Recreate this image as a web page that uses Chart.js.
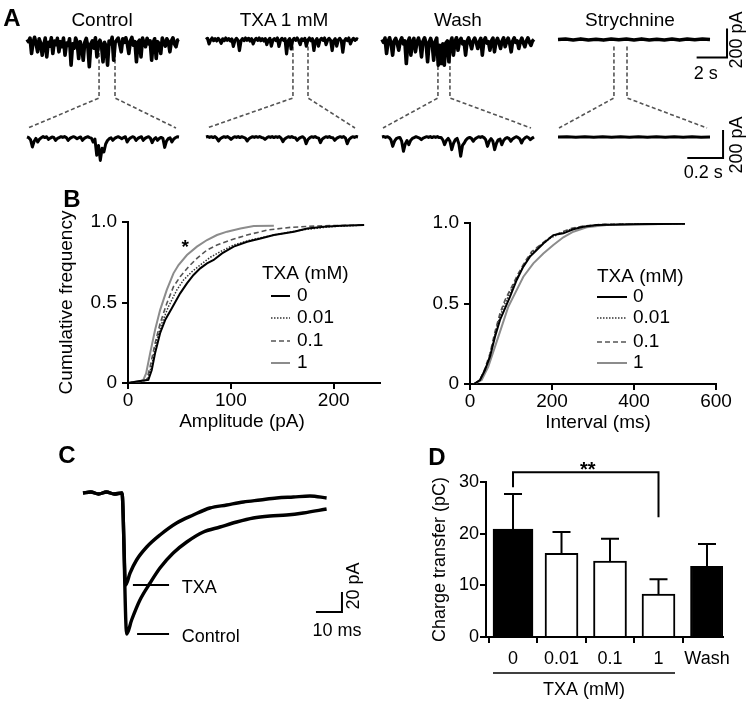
<!DOCTYPE html>
<html>
<head>
<meta charset="utf-8">
<title>TXA and glycinergic currents</title>
<script src="https://cdn.jsdelivr.net/npm/chart.js@4.4.1/dist/chart.umd.min.js"></script>
<style>
  html, body { margin: 0; padding: 0; background: #fff; }
  body { position: relative; width: 755px; height: 705px; overflow: hidden;
         font-family: "Liberation Sans", Arial, Helvetica, sans-serif; color: #000; }
  canvas { position: absolute; }
  .txt { position: absolute; transform: translate(-50%, -50%); line-height: 1; white-space: nowrap; }
  .letter { font-weight: bold; font-size: 24px; }
  .title { font-size: 19px; }
</style>
</head>
<body>
<script>
const FONT = '"Liberation Sans", Arial, Helvetica, sans-serif';
Chart.defaults.font.family = FONT;
Chart.defaults.color = '#000';

// ---------- Panel A sweeps (pA). Top: one value per 0.1 s, bottom: one per 0.01 s ----------
const ctrlTop = [0,-15,10,-97,-20,15,-30,-85,5,-25,
  -108,-40,10,-120,-20,-45,12,-97,-10,-35,
  8,-85,-15,-50,10,-108,-25,-40,5,-177,
  -30,-60,10,-20,-131,-15,-50,-143,-20,8,
  -45,-188,-30,-10,-60,12,-120,-25,-5,-40,
  -154,-20,-45,-177,-10,-30,15,-143,-20,-5,
  10,-35,-85,5,-20,12,-30,-97,-10,15,
  -40,-15,-154,-20,-5,-120,10,-25,-50,8,
  -30,-10,-143,-20,5,-131,-15,-30,-97,10,
  -20,-45,5,-15,-85,-10,12,-30,-50,-5,0];
const txaTop = [0,8,-30,-5,10,-8,5,-10,8,-5,
  -26,5,-8,10,-5,6,-10,4,-48,-8,
  8,-5,-76,-10,6,-8,10,-5,8,-10,
  5,-30,-5,8,-6,10,-8,5,-10,6,
  -35,-5,8,-46,-5,6,-8,10,-48,-5,
  8,-6,5,-99,-10,6,-65,-5,8,-6,
  10,-8,-35,5,-6,8,-46,-5,10,-8,
  5,-76,-10,6,-46,-5,8,-6,10,-35,
  -5,8,-6,-76,-8,5,-46,-5,8,-6,
  -88,-10,6,-8,10,-30,-5,8,-6,5,0];
const washTop = [0,-20,10,-97,-15,12,-30,-108,-10,8,
  -25,-74,-10,12,-30,-10,-166,-20,10,-108,
  -15,8,-85,-20,10,-30,-120,-10,12,-25,
  -154,-20,8,-30,-143,-15,10,-177,-40,-166,
  -30,-177,-25,-10,-154,-20,10,-108,-15,12,
  -74,-10,8,-30,-15,-108,-10,12,-25,-64,
  -10,10,-20,-62,-15,8,-108,-10,12,-25,
  -15,-74,-10,10,-85,-15,8,-25,-62,-10,
  12,-50,-15,10,-25,-85,-10,12,-20,-10,
  -62,-15,10,-25,-50,-10,12,-20,-40,-10,0];
const strychTop = [0,3,-3,4,-3,2,-4,3,-2,3,-3,4,-3,2,-3,3,-4,3,-2,3,0]; // one per 0.5 s

const ctrlBot = [0,-5,-20,-71,-30,-10,-36,-15,-5,3,
  -4,2,-17,-8,0,-3,-24,-10,-4,2,
  -3,3,-4,-24,-10,-3,2,-3,-12,-5,
  0,-24,-10,-3,2,-4,-8,-36,-15,-131,
  -60,-167,-80,-107,-50,-25,-12,-6,-24,-10,
  -3,2,-4,-12,-4,2,-36,-15,-5,2,
  -3,-24,-10,-3,2,-24,-10,-3,2,-8,
  -40,-15,-5,-24,-10,-3,-10,-74,-30,-12,
  -5,-36,-15,-5,2,0];
const txaBot = [0,3,-3,2,-4,3,-8,-29,-12,-4,
  2,-3,3,-5,-17,-6,2,-3,3,-4,
  2,-3,-8,-29,-12,-4,2,-3,3,-2,
  3,-3,-6,-17,-6,2,-3,3,-4,2,
  -3,3,-8,-33,-14,-5,2,-3,3,-4,
  -6,-24,-10,-3,2,-8,-48,-18,-6,2,
  -3,3,-4,-8,-40,-15,-5,2,-3,3,
  -4,-6,-24,-10,-3,2,-3,3,-8,-48,
  -18,-6,2,-3,3,0];
const washBot = [0,3,-3,2,-4,-20,-67,-30,-12,-5,
  -3,-30,-102,-50,-25,-55,-25,-10,-4,2,
  -3,-8,-19,-8,-3,2,-3,3,-4,2,
  -3,3,-4,-3,-20,-55,-25,-10,-30,-90,
  -45,-20,-10,-50,-138,-60,-43,-20,-8,-3,
  -10,-31,-14,-5,2,-3,3,-4,-20,-67,
  -30,-12,-30,-90,-45,-20,-15,-55,-25,-10,
  -4,-10,-31,-14,-5,2,-3,-12,-43,-18,
  -6,2,-5,-19,-8,0];
const strychBot = [0,1,-1,2,-2,1,-1,1,-2,1,-1,2,-1,1,-2,1,-1,0]; // one per 0.05 s

// ---------- Panel B cumulative distributions ----------
const txaLabels = ['0', '0.01', '0.1', '1'];
const ampX0 = [0, 11.7, 19.8, 23.1, 26.3, 31.2, 36.1, 42.6, 50.7, 57.3, 63.7, 70.2, 76.8, 83.3, 91.4, 102.7, 115.8, 128.8, 141.8, 161.3, 174.3, 190.5, 206.8, 229.6];
const ampY0 = [0, 0.012, 0.019, 0.081, 0.184, 0.309, 0.391, 0.464, 0.557, 0.619, 0.671, 0.712, 0.743, 0.764, 0.805, 0.847, 0.877, 0.898, 0.919, 0.940, 0.960, 0.971, 0.977, 0.981];
const ampX001 = [0, 12, 18.9, 23.1, 28.0, 32.8, 39.3, 47.5, 54.0, 62.1, 70.2, 80.0, 89.8, 102.7, 119.0, 141.8, 167.8, 197.1, 229.6];
const ampY001 = [0, 0.01, 0.019, 0.112, 0.267, 0.370, 0.474, 0.578, 0.640, 0.691, 0.733, 0.781, 0.816, 0.857, 0.888, 0.919, 0.950, 0.971, 0.981];
const ampX01 = [0, 12, 18.2, 21.5, 26.3, 31.2, 37.7, 44.2, 50.7, 58.8, 67.0, 76.8, 86.5, 99.5, 115.8, 135.3, 158.0, 190.5, 229.6];
const ampY01 = [0, 0.01, 0.019, 0.101, 0.246, 0.370, 0.494, 0.598, 0.660, 0.722, 0.774, 0.826, 0.857, 0.888, 0.919, 0.950, 0.967, 0.977, 0.981];
const ampX1 = [0, 12, 14.9, 17.6, 21.5, 26.3, 31.2, 37.7, 44.2, 49.1, 57.3, 67.0, 76.8, 86.5, 96.3, 109.3, 122.3, 141.8];
const ampY1 = [0, 0.012, 0.019, 0.060, 0.184, 0.329, 0.453, 0.578, 0.681, 0.733, 0.795, 0.847, 0.888, 0.919, 0.940, 0.960, 0.975, 0.977];

const intX0 = [10, 24.4, 36.6, 48.8, 61.0, 73.2, 85.4, 97.6, 113.9, 130.1, 146.3, 162.7, 178.9, 203.3, 227.6, 252.0, 276.4, 309.0, 400, 524.4];
const intY0 = [0, 0.025, 0.087, 0.170, 0.294, 0.398, 0.470, 0.542, 0.646, 0.729, 0.791, 0.832, 0.873, 0.925, 0.936, 0.961, 0.977, 0.988, 0.993, 0.996];
const intX001 = [10, 24.4, 36.6, 48.8, 61.0, 73.2, 85.4, 101.7, 117.9, 134.1, 150.4, 170.7, 195.1, 219.5, 248.0, 276.4, 325.2, 420, 524.4];
const intY001 = [0, 0.025, 0.092, 0.180, 0.310, 0.420, 0.500, 0.590, 0.675, 0.750, 0.812, 0.858, 0.905, 0.935, 0.963, 0.978, 0.990, 0.994, 0.996];
const intX01 = [10, 24.4, 36.6, 48.8, 61.0, 73.2, 85.4, 101.7, 117.9, 134.1, 150.4, 170.7, 195.1, 219.5, 248.0, 276.4, 325.2, 420, 524.4];
const intY01 = [0, 0.025, 0.097, 0.190, 0.325, 0.439, 0.522, 0.604, 0.687, 0.760, 0.822, 0.863, 0.911, 0.940, 0.967, 0.981, 0.992, 0.994, 0.996];
const intX1 = [10, 28.5, 44.7, 61.0, 77.3, 93.4, 109.8, 130.1, 154.5, 178.9, 203.3, 227.6, 252.0, 284.6, 333.4, 420, 524.4];
const intY1 = [0, 0.025, 0.108, 0.232, 0.356, 0.480, 0.563, 0.666, 0.749, 0.811, 0.863, 0.911, 0.946, 0.973, 0.988, 0.993, 0.996];

const cumYTicks = [0, 0.5, 1];
const ampTicks = [0, 100, 200];
const intTicks = [0, 200, 400, 600];

// ---------- Panel C averaged events (ms, pA) ----------
const cTxaT = [-15, -12, -9, -6, -3, 0, 1.4, 3.1, 5.6, 9.5, 14.6, 21.0, 27.4, 33.8, 40.3, 46.7, 53.1, 59.5, 65.9, 72.3, 78.7];
const cTxaI = [0, 1, -1, 1, -1, 0, -92, -80, -67, -54, -42, -30, -22, -15, -12, -9, -7, -5, -4, -3, -5];
const cCtrlT = [-15, -12, -9, -6, -3, 0, 1.8, 3.7, 6.9, 10.8, 14.6, 19.7, 24.9, 31.3, 37.7, 44.1, 50.5, 56.9, 63.3, 69.7, 78.7];
const cCtrlI = [0, 1, -1, 1, -1, 0, -141, -127, -107, -90, -75, -60, -49, -39, -34, -29, -25, -23, -22, -20, -16];

// ---------- Panel D charge transfer (pC) ----------
const dCats = ['0', '0.01', '0.1', '1', 'Wash'];
const dMean = [20.9, 16.2, 14.7, 8.3, 13.7];
const dSem = [6.8, 4.1, 4.3, 2.9, 4.3];
const dFill = ['#000', '#fff', '#fff', '#fff', '#000'];
const dYTicks = [0, 10, 20, 30];

// ---------- helpers ----------
function makeCanvas(left, top, w, h) {
    const c = document.createElement('canvas');
    c.width = w; c.height = h;
    c.style.left = left + 'px'; c.style.top = top + 'px';
    c.style.width = w + 'px'; c.style.height = h + 'px';
    document.body.appendChild(c);
    return c;
}

function htmlText(text, x, y, cls) {
    const d = document.createElement('div');
    d.className = 'txt ' + cls;
    d.textContent = text;
    d.style.left = x + 'px'; d.style.top = y + 'px';
    document.body.appendChild(d);
}

function canvasText(ctx, text, x, y, size, opts = {}) {
    ctx.save();
    ctx.font = (opts.bold ? 'bold ' : '') + size + 'px ' + FONT;
    ctx.fillStyle = '#000';
    ctx.textAlign = opts.align || 'center';
    ctx.textBaseline = opts.baseline || 'middle';
    ctx.translate(x, y);
    if (opts.rotate) ctx.rotate(-Math.PI / 2);
    ctx.fillText(text, 0, 0);
    ctx.restore();
}

function strokeLines(ctx, segs, width, color, dash) {
    ctx.save();
    ctx.strokeStyle = color || '#000';
    ctx.lineWidth = width;
    ctx.setLineDash(dash || []);
    ctx.beginPath();
    segs.forEach(s => { ctx.moveTo(s[0], s[1]); for (let i = 2; i < s.length; i += 2) ctx.lineTo(s[i], s[i + 1]); });
    ctx.stroke();
    ctx.restore();
}

const baseOptions = {
    responsive: false,
    animation: false,
    events: [],
    plugins: { legend: { display: false }, tooltip: { enabled: false } }
};

// ---------- Panel A ----------
const TOP_PX_S = 15.2, BOT_PX_S = 152 / 0.85;
const TOP_PA_PX = 6.9, BOT_PA_PX = 7.14;
const A_H = 185, TOP_BASE = 39.5, BOT_BASE = 137, BOT_LEN = 0.85;

const columns = [
    { title: 'Control', cx: 102, start: 27, top: ctrlTop, topDt: 0.1, bot: ctrlBot, botDt: 0.01, win: [4.74, 5.79], lw: 3.6 },
    { title: 'TXA 1 mM', cx: 284, start: 206, top: txaTop, topDt: 0.1, bot: txaBot, botDt: 0.01, win: [5.72, 6.71], lw: 3.2 },
    { title: 'Wash', cx: 458, start: 382, top: washTop, topDt: 0.1, bot: washBot, botDt: 0.01, win: [3.68, 4.47], lw: 3.6 },
    { title: 'Strychnine', cx: 630, start: 558, top: strychTop, topDt: 0.5, bot: strychBot, botDt: 0.05, win: [3.68, 4.54], lw: 3.6, scaleBars: true }
];

function sweep(vals, dt) {
    return vals.map((v, i) => ({ x: +(i * dt).toFixed(3), y: v }));
}

function zoomLines(col) {
    return {
        id: 'zoomLines',
        beforeDatasetsDraw(chart) {
            const s = chart.scales;
            const yT = s.yTop.getPixelForValue(0) + 7;
            const yM = s.yBot.getPixelForValue(0) - 39;
            const yB = s.yBot.getPixelForValue(0) - 9;
            const x0 = s.xTop.getPixelForValue(col.win[0]);
            const x1 = s.xTop.getPixelForValue(col.win[1]);
            const b0 = s.xBot.getPixelForValue(0) + 1;
            const b1 = s.xBot.getPixelForValue(BOT_LEN) - 3;
            strokeLines(chart.ctx, [[x0, yT, x0, yM, b0, yB], [x1, yT, x1, yM, b1, yB]], 1.6, '#555', [4, 2.5]);
        }
    };
}

// 2 s / 200 pA and 0.2 s / 200 pA calibration bars
const scaleBarsA = {
    id: 'scaleBarsA',
    afterDatasetsDraw(chart) {
        const { ctx, scales: { xTop, yTop, xBot, yBot } } = chart;
        const tx0 = xTop.getPixelForValue(9.12), tx1 = xTop.getPixelForValue(11.12);
        const ty0 = yTop.getPixelForValue(-124), ty1 = yTop.getPixelForValue(76);
        const bx0 = xBot.getPixelForValue(0.723), bx1 = xBot.getPixelForValue(0.923);
        const by0 = yBot.getPixelForValue(-150), by1 = yBot.getPixelForValue(50);
        strokeLines(ctx, [[tx0, ty0, tx1, ty0, tx1, ty1], [bx0, by0, bx1, by0, bx1, by1]], 2);
        canvasText(ctx, '2 s', (tx0 + tx1) / 2 - 6, ty0 + 17, 18);
        canvasText(ctx, '200 pA', tx1 + 10, (ty0 + ty1) / 2 - 3, 18, { rotate: true });
        canvasText(ctx, '0.2 s', (bx0 + bx1) / 2 - 2, by0 + 15, 18);
        canvasText(ctx, '200 pA', bx1 + 14, (by0 + by1) / 2 + 1, 18, { rotate: true });
    }
};

columns.forEach(col => {
    const left = col.start - 3;
    const w = col.scaleBars ? 755 - left : 158;
    const cv = makeCanvas(left, 0, w, A_H);
    const line = { borderColor: '#000', pointRadius: 0, tension: 0, borderJoinStyle: 'round' };
    new Chart(cv, {
        type: 'line',
        data: {
            datasets: [
                Object.assign({ data: sweep(col.top, col.topDt), xAxisID: 'xTop', yAxisID: 'yTop', borderWidth: col.lw }, line),
                Object.assign({ data: sweep(col.bot, col.botDt), xAxisID: 'xBot', yAxisID: 'yBot', borderWidth: 3 }, line)
            ]
        },
        options: Object.assign({}, baseOptions, {
            layout: { padding: 0 },
            scales: {
                xTop: { type: 'linear', display: false, min: -3 / TOP_PX_S, max: (w - 3) / TOP_PX_S },
                xBot: { type: 'linear', display: false, min: -3 / BOT_PX_S, max: (w - 3) / BOT_PX_S },
                yTop: { type: 'linear', display: false, max: TOP_BASE * TOP_PA_PX, min: (TOP_BASE - A_H) * TOP_PA_PX },
                yBot: { type: 'linear', display: false, max: BOT_BASE * BOT_PA_PX, min: (BOT_BASE - A_H) * BOT_PA_PX }
            }
        }),
        plugins: [zoomLines(col)].concat(col.scaleBars ? [scaleBarsA] : [])
    });
    htmlText(col.title, col.cx, 19, 'title');
});

// ---------- Panel B ----------
const seriesStyle = [
    { color: '#000', width: 2, dash: [] },
    { color: '#333', width: 1.5, dash: [1.5, 1.5] },
    { color: '#555', width: 1.6, dash: [5, 3] },
    { color: '#8c8c8c', width: 2, dash: [] }
];

function cumLegend(pos) {
    return {
        id: 'cumLegend',
        afterDatasetsDraw(chart) {
            const { ctx, chartArea: a } = chart;
            canvasText(ctx, 'TXA (mM)', a.left + pos.x, a.top + pos.titleY, 19, { align: 'left' });
            chart.data.datasets.forEach((ds, i) => {
                const y = a.top + pos.rowY[i];
                strokeLines(ctx, [[a.left + pos.lineX[0], y, a.left + pos.lineX[1], y]], ds.borderWidth, ds.borderColor, ds.borderDash);
                canvasText(ctx, ds.label, a.left + pos.textX, y, 19, { align: 'left' });
            });
            // axis title placed under the axis
            canvasText(ctx, pos.xTitle, a.left + pos.xTitleX, a.bottom + 39, 19);
            if (pos.star) {
                const s = chart.scales;
                canvasText(ctx, '*', s.x.getPixelForValue(pos.star[0]), s.y.getPixelForValue(pos.star[1]) + 10, 19, { bold: true, baseline: 'alphabetic' });
            }
        }
    };
}

function cumChart(o) {
    const cv = makeCanvas(o.left, o.top, o.w, o.h);
    const axisCommon = {
        border: { color: '#000', width: 2 },
        grid: { drawOnChartArea: false, drawTicks: true, tickLength: 6, color: '#000', lineWidth: 2 }
    };
    return new Chart(cv, {
        type: 'line',
        data: {
            datasets: o.xs.map((xs, k) => ({
                label: txaLabels[k],
                data: xs.map((x, i) => ({ x: x, y: o.ys[k][i] })),
                borderColor: seriesStyle[k].color,
                borderWidth: seriesStyle[k].width,
                borderDash: seriesStyle[k].dash,
                pointRadius: 0,
                tension: 0
            }))
        },
        options: Object.assign({}, baseOptions, {
            layout: { padding: o.padding },
            scales: {
                x: Object.assign({
                    type: 'linear', min: 0, max: o.xMax,
                    afterBuildTicks: s => { s.ticks = o.xTicks.map(v => ({ value: v })); },
                    afterFit: s => { s.height = o.xH; },
                    ticks: { font: { size: 19 }, padding: 0, maxRotation: 0, color: '#000' }
                }, axisCommon),
                y: Object.assign({
                    type: 'linear', min: 0, max: 1,
                    afterBuildTicks: s => { s.ticks = cumYTicks.map(v => ({ value: v })); },
                    afterFit: s => { s.width = o.yW; },
                    ticks: { font: { size: 19 }, padding: 5, color: '#000',
                             callback: v => (v === 0 ? '0' : v.toFixed(1)) },
                    title: { display: !!o.yTitle, text: o.yTitle || '', font: { size: 19 }, padding: { top: 15, bottom: 0 }, color: '#000' }
                }, axisCommon)
            }
        }),
        plugins: [cumLegend(o.legend)]
    });
}

cumChart({
    left: 40, top: 200, w: 350, h: 235,
    padding: { top: 22, right: 10, left: 0, bottom: 0 }, yW: 88, xH: 52,
    xs: [ampX0, ampX001, ampX01, ampX1], ys: [ampY0, ampY001, ampY01, ampY1],
    xMax: 245, xTicks: ampTicks, yTitle: 'Cumulative frequency',
    legend: { x: 134, titleY: 52, lineX: [143, 162], textX: 169, rowY: [74, 96, 119, 141], star: [55.6, 0.87],
              xTitle: 'Amplitude (pA)', xTitleX: 114 }
});

cumChart({
    left: 400, top: 200, w: 345, h: 235,
    padding: { top: 23, right: 29, left: 0, bottom: 0 }, yW: 70, xH: 51,
    xs: [intX0, intX001, intX01, intX1], ys: [intY0, intY001, intY01, intY1],
    xMax: 600, xTicks: intTicks, yTitle: '',
    legend: { x: 127, titleY: 54, lineX: [127, 157], textX: 163, rowY: [74, 95, 119, 140],
              xTitle: 'Interval (ms)', xTitleX: 128 }
});

// ---------- Panel C ----------
const C_PX_MS = 2.6;
const cLabels = {
    id: 'cLabels',
    afterDatasetsDraw(chart) {
        const { ctx, scales: { x, y } } = chart;
        chart.data.datasets.forEach(ds => {
            const peak = Math.min.apply(null, ds.data.map(p => p.y));
            const py = y.getPixelForValue(peak);
            strokeLines(ctx, [[x.getPixelForValue(ds.tagFrom), py, x.getPixelForValue(18.1), py]], 2);
            canvasText(ctx, ds.label, x.getPixelForValue(23), py + 3, 18, { align: 'left' });
        });
        // 10 ms / 20 pA calibration
        const sx0 = x.getPixelForValue(74.6), sx1 = x.getPixelForValue(84.6);
        const sy0 = y.getPixelForValue(-119), sy1 = y.getPixelForValue(-99);
        strokeLines(ctx, [[sx0, sy0, sx1, sy0, sx1, sy1]], 2);
        canvasText(ctx, '20 pA', sx1 + 12, (sy0 + sy1) / 2 - 16, 18, { rotate: true });
        canvasText(ctx, '10 ms', (sx0 + sx1) / 2 + 8, sy0 + 19, 18);
    }
};

new Chart(makeCanvas(70, 470, 300, 180), {
    type: 'line',
    data: {
        datasets: [
            { label: 'TXA', tagFrom: 4.2, data: cTxaT.map((t, i) => ({ x: t, y: cTxaI[i] })),
              borderColor: '#000', borderWidth: 3.4, pointRadius: 0, cubicInterpolationMode: 'monotone' },
            { label: 'Control', tagFrom: 5.8, data: cCtrlT.map((t, i) => ({ x: t, y: cCtrlI[i] })),
              borderColor: '#000', borderWidth: 3.4, pointRadius: 0, cubicInterpolationMode: 'monotone' }
        ]
    },
    options: Object.assign({}, baseOptions, {
        layout: { padding: 0 },
        scales: {
            x: { type: 'linear', display: false, min: -20, max: -20 + 300 / C_PX_MS },
            y: { type: 'linear', display: false, min: -157, max: 23 }
        }
    }),
    plugins: [cLabels]
});

// ---------- Panel D ----------
const dExtras = {
    id: 'dExtras',
    afterDatasetsDraw(chart) {
        const { ctx, chartArea: a, scales: { x, y } } = chart;
        // SEM whiskers
        const segs = [];
        dMean.forEach((m, i) => {
            const px = x.getPixelForValue(i);
            const y0 = y.getPixelForValue(m), y1 = y.getPixelForValue(m + dSem[i]);
            segs.push([px, y0, px, y1], [px - 9, y1, px + 9, y1]);
        });
        strokeLines(ctx, segs, 2);
        // significance bracket 0 vs 1 mM
        const xa = x.getPixelForValue(0), xb = x.getPixelForValue(3);
        strokeLines(ctx, [[xa, y.getPixelForValue(29.0), xa, y.getPixelForValue(31.9), xb, y.getPixelForValue(31.9), xb, y.getPixelForValue(23.2)]], 2);
        canvasText(ctx, '**', (xa + xb) / 2 + 2, y.getPixelForValue(31.9) + 4, 20, { bold: true, baseline: 'alphabetic' });
        // TXA group underline
        const l0 = xa - 20, l1 = xb + 16.5;
        strokeLines(ctx, [[l0, a.bottom + 36, l1, a.bottom + 36]], 1.5);
        canvasText(ctx, 'TXA (mM)', (l0 + l1) / 2, a.bottom + 53, 18);
    }
};

new Chart(makeCanvas(400, 440, 355, 260), {
    type: 'bar',
    data: {
        datasets: [
            { data: [{ x: 0, y: dMean[0] }], backgroundColor: dFill[0], borderColor: '#000',
              borderWidth: 2, barThickness: 40, grouped: false },
            { data: dMean.slice(1).map((m, i) => ({ x: i + 1, y: m })), backgroundColor: dFill.slice(1),
              borderColor: '#000', borderWidth: 2, barThickness: 33, grouped: false }
        ]
    },
    options: Object.assign({}, baseOptions, {
        layout: { padding: { top: 42, right: 32, left: 0, bottom: 0 } },
        scales: {
            x: {
                type: 'linear', min: -0.557, max: 4.33, offset: false,
                afterBuildTicks: s => { s.ticks = dCats.map((c, i) => ({ value: i })); },
                afterFit: s => { s.height = 63; },
                border: { color: '#000', width: 2 },
                grid: { drawOnChartArea: false, drawTicks: true, tickLength: 6, color: '#000', lineWidth: 2 },
                ticks: { font: { size: 18 }, padding: 5, maxRotation: 0, color: '#000', callback: v => dCats[v] }
            },
            y: {
                type: 'linear', min: 0, max: 30,
                afterBuildTicks: s => { s.ticks = dYTicks.map(v => ({ value: v })); },
                afterFit: s => { s.width = 86; },
                border: { color: '#000', width: 2 },
                grid: { drawOnChartArea: false, drawTicks: true, tickLength: 6, color: '#000', lineWidth: 2 },
                ticks: { font: { size: 18 }, padding: 1, color: '#000' },
                title: { display: true, text: 'Charge transfer (pC)', font: { size: 18 }, padding: { top: 29, bottom: 0 }, color: '#000' }
            }
        }
    }),
    plugins: [dExtras]
});

// panel letters
htmlText('A', 12, 18, 'letter');
htmlText('B', 72, 199, 'letter');
htmlText('C', 67, 455, 'letter');
htmlText('D', 437, 457, 'letter');
</script>
</body>
</html>
